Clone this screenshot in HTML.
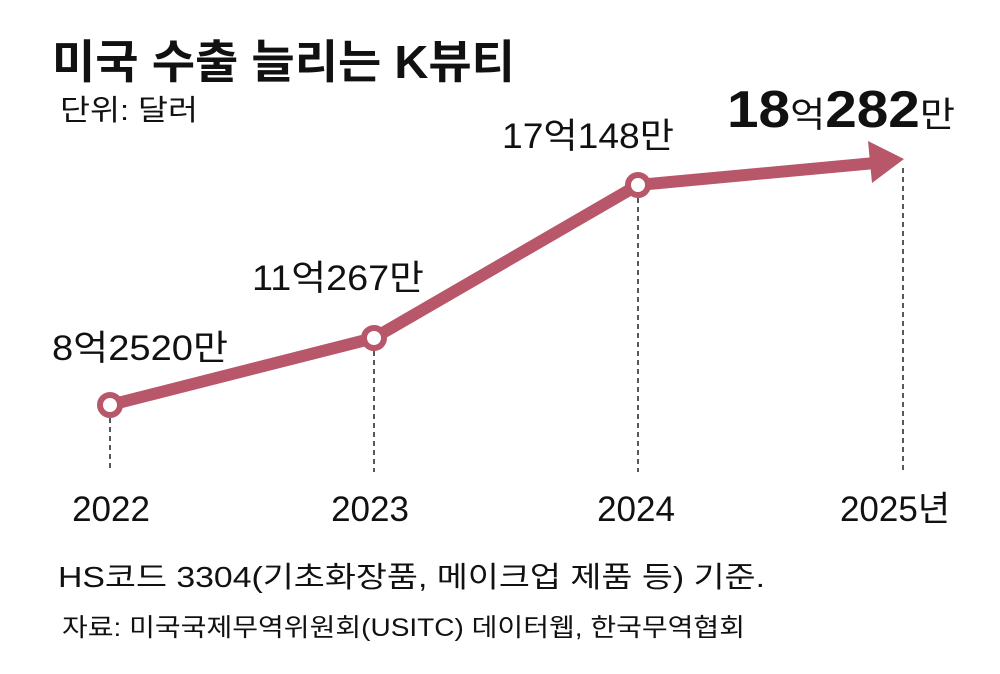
<!DOCTYPE html>
<html><head><meta charset="utf-8"><style>
body{margin:0;background:#fff;}
svg{display:block;}
text{font-family:"Liberation Sans","Noto Sans CJK KR",sans-serif;fill:#111;}
</style></head><body>
<svg width="1000" height="674" viewBox="0 0 1000 674">
<text x="52" y="78" font-size="46" font-weight="bold" textLength="463" lengthAdjust="spacingAndGlyphs">미국 수출 늘리는 K뷰티</text>
<text x="60" y="120" font-size="29" textLength="138" lengthAdjust="spacingAndGlyphs">단위: 달러</text>
<g stroke="#222" stroke-width="1.5" stroke-dasharray="5,4">
<line x1="110" y1="418" x2="110" y2="472"/>
<line x1="374" y1="351" x2="374" y2="472"/>
<line x1="638" y1="198" x2="638" y2="472"/>
<line x1="903" y1="168" x2="903" y2="472"/>
</g>
<polyline points="110,405 374,338 638,185 875,163" fill="none" stroke="#b85769" stroke-width="12" stroke-linejoin="round"/>
<polygon points="868,141 904,159 872,183" fill="#b85769"/>
<g fill="#fff" stroke="#b85769" stroke-width="6">
<circle cx="110" cy="405" r="10"/>
<circle cx="374" cy="338" r="10"/>
<circle cx="638" cy="185" r="10"/>
</g>
<text x="52" y="360" font-size="35" textLength="176" lengthAdjust="spacingAndGlyphs">8억2520만</text>
<text x="252" y="290" font-size="35" textLength="172" lengthAdjust="spacingAndGlyphs">11억267만</text>
<text x="502" y="148" font-size="35" textLength="172" lengthAdjust="spacingAndGlyphs">17억148만</text>
<text x="727" y="127" textLength="228" lengthAdjust="spacingAndGlyphs"><tspan font-size="52" font-weight="bold">18</tspan><tspan font-size="35">억</tspan><tspan font-size="52" font-weight="bold">282</tspan><tspan font-size="35">만</tspan></text>
<g font-size="35" text-anchor="middle">
<text x="111" y="521">2022</text>
<text x="370" y="521">2023</text>
<text x="636" y="521">2024</text>
<text x="895" y="521">2025년</text>
</g>
<text x="58" y="587" font-size="29" textLength="707" lengthAdjust="spacingAndGlyphs">HS코드 3304(기초화장품, 메이크업 제품 등) 기준.</text>
<text x="62" y="636" font-size="25" fill="#333" textLength="683" lengthAdjust="spacingAndGlyphs">자료: 미국국제무역위원회(USITC) 데이터웹, 한국무역협회</text>
</svg>
</body></html>
